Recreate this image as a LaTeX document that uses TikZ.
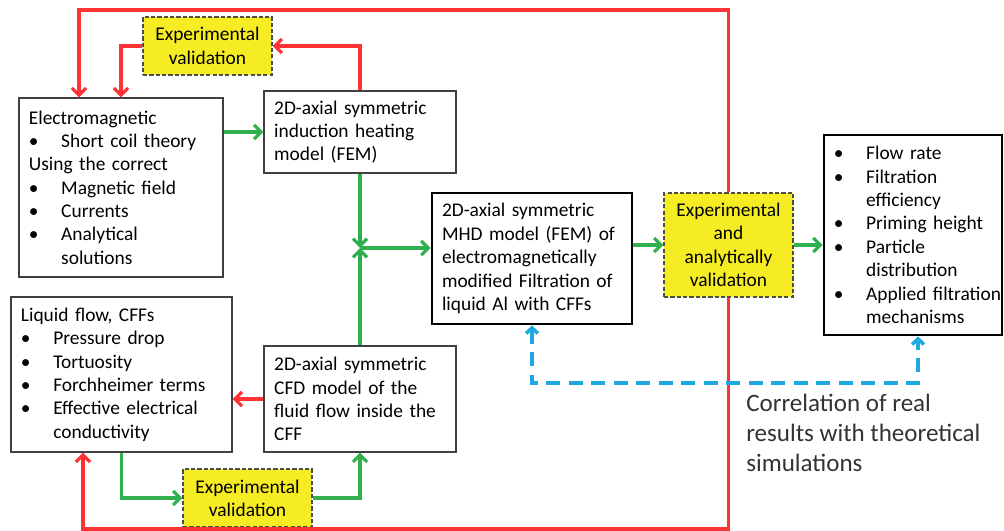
\documentclass[tikz,border=0pt]{standalone}
\usepackage{fontspec}
\setmainfont{Carlito}
\usetikzlibrary{arrows.meta}

\definecolor{rouge}{RGB}{255,51,51}
\definecolor{vert}{RGB}{50,176,80}
\definecolor{bleu}{RGB}{30,168,224}
\definecolor{jaune}{RGB}{246,236,36}

% puces des listes
\newcommand{\puce}[1]{\makebox[23pt][l]{\textbullet}\mbox{#1}}
\newcommand{\suite}[1]{\hspace*{23pt}\mbox{#1}}

\begin{document}
\begin{tikzpicture}[x=0.025cm, y=-0.025cm,
    boite/.style={draw=black!75, line width=0.9pt, fill=white, inner xsep=7pt, inner ysep=0pt,
      align=left, font=\fontsize{13.8}{16.6}\selectfont},
    boitegras/.style={boite, draw=black, line width=2pt},
    valid/.style={draw=black!70, dash pattern=on 3pt off 1.5pt, line width=0.8pt, fill=jaune,
      align=center, inner sep=0pt, minimum width=3.225cm, font=\fontsize{13.8}{16.6}\selectfont},
    flv/.style={draw=vert, line width=2.3pt, -{Straight Barb[length=5pt,width=10pt]}},
    flr/.style={draw=rouge, line width=2.3pt, -{Straight Barb[length=5pt,width=10pt]}},
    corr/.style={draw=bleu, line width=2.5pt, dash pattern=on 10pt off 6pt,
      {Straight Barb[length=4pt,width=8.5pt]}-{Straight Barb[length=4pt,width=8.5pt]}}]
  \useasboundingbox (0,0) rectangle (1004,531);

  % Modeles et validations
  \node[boite, minimum width=5.1cm, minimum height=4.475cm, text width=131pt] (em) at (121,187.5)
    {Electromagnetic\\ \puce{Short coil theory}\\ Using the correct\\ \puce{Magnetic field}\\
     \puce{Currents}\\ \puce{Analytical}\\ \suite{solutions}};
  \node[boite, minimum width=4.8cm, minimum height=2.05cm, text width=122pt] (ind) at (360,132)
    {2D-axial symmetric\\ induction heating\\ model (FEM)};
  \node[valid, minimum height=1.45cm] (val1) at (207.5,46) {Experimental\\ validation};
  \node[boitegras, minimum width=5cm, minimum height=3.275cm, text width=128pt] (mhd) at (532,258.5)
    {2D-axial symmetric\\ MHD model (FEM) of\\ electromagnetically\\ modified Filtration of\\ liquid Al with CFFs};
  \node[valid, minimum height=2.6cm] (val2) at (728.5,245) {Experimental\\ and\\ analytically\\ validation};
  \node[boitegras, minimum width=4.45cm, minimum height=5cm, text width=112.6pt] (res) at (913,235)
    {\puce{Flow rate}\\ \puce{Filtration}\\ \suite{efficiency}\\ \puce{Priming height}\\
     \puce{Particle}\\ \suite{distribution}\\ \puce{Applied filtration}\\ \suite{mechanisms}};
  \node[boite, minimum width=5.525cm, minimum height=3.875cm, text width=143pt] (liq) at (121.5,374.5)
    {Liquid flow, CFFs\\ \puce{Pressure drop}\\ \puce{Tortuosity}\\ \puce{Forchheimer terms}\\
     \puce{Effective electrical}\\ \suite{conductivity}};
  \node[boite, minimum width=4.8cm, minimum height=2.65cm, text width=122pt] (cfd) at (360,399)
    {2D-axial symmetric\\ CFD model of the\\ fluid flow inside the\\ CFF};
  \node[valid, minimum height=1.45cm] (val3) at (247.5,498) {Experimental\\ validation};

  % Texte de correlation
  \node[anchor=north west, align=left, inner sep=0pt, text=black!80,
    font=\fontsize{17.8}{21.3}\selectfont] (note) at (746,394)
    {Correlation of real\\ results with theoretical\\ simulations};

  % Fleches vertes
  \coordinate (jn) at (360,248);
  \draw[flv] (em.east |- ind.west) -- (ind.west);
  \draw[flv] (ind.south) -- (jn);
  \draw[flv] (cfd.north) -- (jn);
  \draw[flv] (jn) -- (jn -| mhd.west);
  \draw[flv] (mhd.east |- val2.west) -- (val2.west);
  \draw[flv] (val2.east) -- (val2.east -| res.west);
  \draw[flv] (liq.south) |- (val3.west);
  \draw[flv] (val3.east) -| (cfd.south);

  % Retours rouges
  \draw[flr] (ind.north) |- (val1.east);
  \draw[flr] (val1.west) -| (em.north);
  \draw[flr] (cfd.west) -- (cfd.west -| liq.east);
  \coordinate (hd) at (728.5,10);
  \coordinate (hg) at (79,10);
  \draw[flr] (val2.north) -- (hd) -- (hg) -- (hg |- em.north);
  \coordinate (bd) at (728.5,529);
  \coordinate (bg) at (83,529);
  \draw[flr] (val2.south) -- (bd) -- (bg) -- (bg |- liq.south);

  % Correlation en pointilles
  \coordinate (cr) at (918,383);
  \draw[corr] (mhd.south) |- (cr) -- (cr |- res.south);
\end{tikzpicture}
\end{document}
